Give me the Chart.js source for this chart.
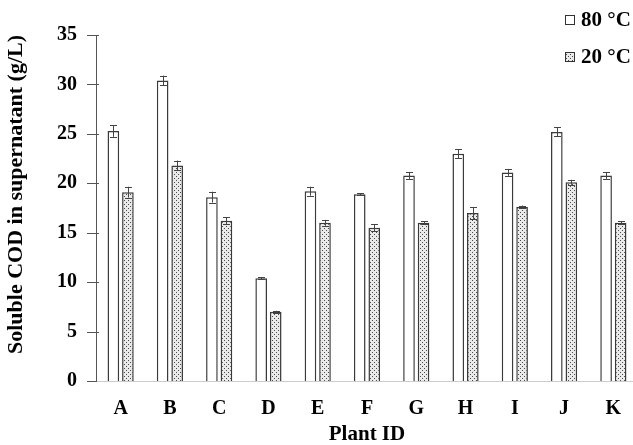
<!DOCTYPE html>
<html>
<head>
<meta charset="utf-8">
<script src="https://cdn.jsdelivr.net/npm/chart.js@4/dist/chart.umd.min.js"></script>
<style>
  html, body { margin: 0; padding: 0; background: #fff; overflow: hidden; width: 633px; height: 445px; }
  #wrap { position: relative; width: 638px; height: 445px; }
</style>
</head>
<body>
<div id="wrap"><canvas id="c" width="638" height="445"></canvas></div>
<script>
const categories = ['A', 'B', 'C', 'D', 'E', 'F', 'G', 'H', 'I', 'J', 'K'];
const seriesNames = ['80 °C', '20 °C'];
const values80 = [25.3, 30.4, 18.6, 10.4, 19.2, 18.9, 20.8, 23.0, 21.1, 25.2, 20.8];
const errors80 = [0.6, 0.5, 0.55, 0.1, 0.45, 0.1, 0.35, 0.45, 0.35, 0.45, 0.35];
const values20 = [19.1, 21.8, 16.2, 7.0, 16.0, 15.5, 16.0, 17.0, 17.6, 20.1, 16.0];
const errors20 = [0.55, 0.5, 0.35, 0.1, 0.3, 0.35, 0.15, 0.6, 0.15, 0.25, 0.15];
const yTicks = [0, 5, 10, 15, 20, 25, 30, 35];
const xTitle = 'Plant ID';
const yTitle = 'Soluble COD in supernatant (g/L)';

const FONT = "'Liberation Serif', 'Times New Roman', serif";

function makeDots() {
  const t = document.createElement('canvas');
  t.width = 4; t.height = 4;
  const g = t.getContext('2d');
  g.fillStyle = '#eaeaea';
  g.fillRect(0, 0, 4, 4);
  g.fillStyle = '#4a4a4a';
  g.fillRect(0, 0, 1, 1);
  g.fillRect(2, 2, 1, 1);
  return g.createPattern(t, 'repeat');
}
const ctx = document.getElementById('c').getContext('2d');
const dots = makeDots();

const errorBarPlugin = {
  id: 'errorBars',
  afterDatasetsDraw(chart) {
    const c = chart.ctx;
    const y = chart.scales.y;
    c.save();
    c.strokeStyle = '#444';
    c.lineWidth = 1;
    chart.data.datasets.forEach((ds, di) => {
      const meta = chart.getDatasetMeta(di);
      meta.data.forEach((bar, i) => {
        const v = ds.data[i], e = ds.errors[i];
        const x = Math.round(bar.x) + 0.5;
        const yt = y.getPixelForValue(v + e), yb = y.getPixelForValue(v - e);
        c.beginPath();
        c.moveTo(x, yt); c.lineTo(x, yb);
        c.moveTo(x - 3.5, Math.round(yt) + 0.5); c.lineTo(x + 3.5, Math.round(yt) + 0.5);
        c.moveTo(x - 3.5, Math.round(yb) + 0.5); c.lineTo(x + 3.5, Math.round(yb) + 0.5);
        c.stroke();
      });
    });
    c.restore();
  }
};

const yTickPlugin = {
  id: 'yTickCross',
  afterDraw(chart) {
    const c = chart.ctx;
    const y = chart.scales.y;
    const left = chart.chartArea.left;
    c.save();
    c.strokeStyle = '#555';
    c.lineWidth = 1;
    yTicks.forEach(t => {
      const py = Math.round(y.getPixelForValue(t)) + 0.5;
      c.beginPath();
      c.moveTo(left - 9, py); c.lineTo(left + (t === 0 ? 0 : 3), py);
      c.stroke();
    });
    c.restore();
  }
};

const legendPlugin = {
  id: 'customLegend',
  afterDraw(chart) {
    const c = chart.ctx;
    c.save();
    c.font = 'bold 21px ' + FONT;
    c.textBaseline = 'middle';
    c.textAlign = 'left';
    const rows = [20, 57];
    chart.data.datasets.forEach((ds, i) => {
      const cy = rows[i];
      c.fillStyle = ds.backgroundColor;
      c.fillRect(565, cy - 5, 10, 10);
      c.strokeStyle = '#333';
      c.lineWidth = 1;
      c.strokeRect(565.5, cy - 4.5, 9, 9);
      c.fillStyle = '#000';
      c.fillText(ds.label, 581, cy + 1);
    });
    c.restore();
  }
};

new Chart(ctx, {
  type: 'bar',
  data: {
    labels: categories,
    datasets: [
      { label: seriesNames[0], data: values80, errors: errors80, backgroundColor: '#ffffff', borderColor: '#3a3a3a', borderWidth: 1.5 },
      { label: seriesNames[1], data: values20, errors: errors20, backgroundColor: dots, borderColor: '#3a3a3a', borderWidth: 1.5 }
    ]
  },
  options: {
    responsive: false,
    animation: false,
    events: [],
    layout: { padding: { top: 35, left: 0, right: 0, bottom: 0 } },
    categoryPercentage: 0.59,
    barPercentage: 0.8,
    plugins: { legend: { display: false }, tooltip: { enabled: false } },
    scales: {
      x: {
        grid: { display: false, drawTicks: false },
        border: { display: true, color: '#cccccc', width: 1 },
        ticks: { color: '#000', font: { family: FONT, size: 20, weight: 'bold' }, padding: 16 },
        title: { display: true, text: xTitle, color: '#000', font: { family: FONT, size: 21, weight: 'bold' }, padding: { top: 0, bottom: -2 } },
        afterFit(s) { s.height = 64; }
      },
      y: {
        min: 0, max: 35,
        afterBuildTicks(s) { s.ticks = yTicks.map(v => ({ value: v })); },
        grid: { display: false, drawTicks: false },
        border: { display: true, color: '#555555', width: 1 },
        ticks: { color: '#000', font: { family: FONT, size: 20, weight: 'bold' }, padding: 19 },
        title: { display: true, text: yTitle, align: 'end', color: '#000', font: { family: FONT, size: 22, weight: 'bold' }, padding: { top: 3, bottom: 0 } },
        afterFit(s) { s.width = 96; }
      }
    }
  },
  plugins: [errorBarPlugin, yTickPlugin, legendPlugin]
});
</script>
</body>
</html>
